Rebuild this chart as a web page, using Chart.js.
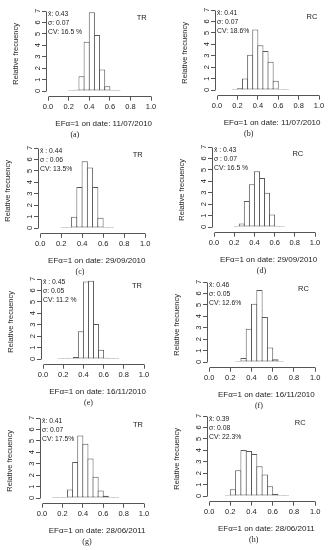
<!DOCTYPE html>
<html>
<head>
<meta charset="utf-8">
<script src="https://cdn.jsdelivr.net/npm/chart.js@4"></script>
<style>
  body { margin: 0; background: #fff; }
  #wrap { position: relative; width: 330px; height: 550px; overflow: hidden; background: #fff; }
  #wrap canvas { position: absolute; }
</style>
</head>
<body>
<div id="wrap"></div>
<script>
// histogram bins: lower edges, width 0.05
const binStarts = [0.10, 0.15, 0.20, 0.25, 0.30, 0.35, 0.40, 0.45, 0.50, 0.55, 0.60, 0.65, 0.70];
const binWidth = 0.05;
const xTicks = [0, 0.2, 0.4, 0.6, 0.8, 1.0];
const yTicks = [0, 1, 2, 3, 4, 5, 6, 7];

// relative frequency per bin (null = empty bin)
const freqA = [null, null, 0.03, 0.12, 1.29, 4.31, 6.89, 4.90, 1.88, 0.41, 0.05, 0.02, null];
const freqB = [null, 0.02, 0.15, 1.00, 3.09, 5.29, 3.91, 3.41, 2.47, 0.82, 0.09, 0.02, null];
const freqC = [null, null, 0.01, 0.05, 0.99, 3.59, 5.83, 5.30, 3.59, 0.90, 0.05, 0.01, null];
const freqD = [null, null, 0.02, 0.30, 2.27, 3.75, 4.87, 4.28, 3.00, 1.09, 0.08, 0.01, null];
const freqE = [null, 0.01, 0.01, 0.02, 0.17, 2.42, 6.79, 6.85, 3.06, 0.82, 0.10, 0.02, 0.01];
const freqF = [null, null, null, 0.02, 0.34, 2.91, 5.09, 6.29, 3.94, 1.26, 0.23, 0.02, null];
const freqG = [0.01, 0.01, 0.05, 0.74, 3.16, 5.46, 4.75, 3.45, 1.86, 0.65, 0.20, 0.05, 0.01];
const freqH = [null, 0.05, 0.59, 2.26, 4.02, 3.93, 3.67, 2.61, 1.88, 0.85, 0.18, 0.02, 0.01];

const methods = ['TR', 'RC', 'TR', 'RC', 'TR', 'RC', 'TR', 'RC'];
const dates = ['11/07/2010', '11/07/2010', '29/09/2010', '29/09/2010',
               '16/11/2010', '16/11/2010', '28/06/2011', '28/06/2011'];
const letters = ['(a)', '(b)', '(c)', '(d)', '(e)', '(f)', '(g)', '(h)'];
const statsA = ['x\u0304: 0.43', 'σ: 0.07', 'CV: 16.5 %'];
const statsB = ['x\u0304: 0.41', 'σ: 0.07', 'CV: 18.6%'];
const statsC = ['x\u0304 : 0.44', 'σ : 0.06', 'CV: 13.5%'];
const statsD = ['x\u0304 : 0.43', 'σ : 0.07', 'CV: 16.5 %'];
const statsE = ['x\u0304 : 0.45', 'σ: 0.05', 'CV: 11.2 %'];
const statsF = ['x\u0304: 0.46', 'σ: 0.05', 'CV: 12.6%'];
const statsG = ['x\u0304: 0.41', 'σ: 0.07', 'CV: 17.5%'];
const statsH = ['x\u0304: 0.39', 'σ: 0.08', 'CV: 22.3%'];

const allFreq = [freqA, freqB, freqC, freqD, freqE, freqF, freqG, freqH];
const allStats = [statsA, statsB, statsC, statsD, statsE, statsF, statsG, statsH];

// where each panel sits: pixel of x=0, pixel of y=7, px per x unit
const placeX0 = [48, 216.7, 40, 214, 42.7, 209, 41.7, 209.3];
const placeTop = [11, 10, 148.3, 146.7, 279.3, 281.7, 418.3, 416];
const placeXs = [103, 102, 105, 101, 101, 106, 102, 106];
const tagAt = [0.91, 0.93, 0.93, 0.83, 0.93, 0.89, 0.94, 0.86];
const letterAt = [0.26, 0.31, 0.38, 0.47, 0.45, 0.47, 0.44, 0.42];

Chart.defaults.font.family = '"Liberation Sans", Arial, sans-serif';
Chart.defaults.color = '#222';

const X_MIN = -0.02, X_MAX = 1.10, Y_MIN = -0.5, Y_MAX = 7;
const Y_W = 40, PAD_T = 8, X_H = 34, PLOT_H = 80 * (Y_MAX - Y_MIN) / Y_MAX, CANVAS_H = 138;

// R-like axis lines that only span the ticks
const axisLines = {
  id: 'axisLines',
  afterDraw(chart) {
    const { ctx, chartArea, scales: { x, y } } = chart;
    const ax = Math.round(chartArea.left - 0.5) + 0.5;
    const ay = Math.round(chartArea.bottom - 0.5) + 0.5;
    ctx.save();
    ctx.strokeStyle = '#555';
    ctx.lineWidth = 1;
    ctx.beginPath();
    ctx.moveTo(ax, Math.round(y.getPixelForValue(0)) + 0.5);
    ctx.lineTo(ax, Math.round(y.getPixelForValue(7)) + 0.5);
    ctx.moveTo(Math.round(x.getPixelForValue(0)) + 0.5, ay);
    ctx.lineTo(Math.round(x.getPixelForValue(1)) + 0.5, ay);
    ctx.stroke();
    ctx.restore();
  }
};

const notes = {
  id: 'notes',
  afterDraw(chart, args, opts) {
    const { ctx, chartArea, scales: { x } } = chart;
    ctx.save();
    ctx.fillStyle = '#222';
    ctx.textBaseline = 'middle';
    ctx.textAlign = 'left';
    ctx.font = '6.8px "Liberation Sans", Arial, sans-serif';
    opts.stats.forEach((s, i) => ctx.fillText(s, chartArea.left + 2, chartArea.top + 3.5 + i * 9));
    ctx.textAlign = 'center';
    ctx.font = '7.5px "Liberation Sans", Arial, sans-serif';
    ctx.fillText(opts.tag, x.getPixelForValue(opts.tagX), chartArea.top + 7);
    ctx.font = '8px "Liberation Serif", "Times New Roman", serif';
    ctx.fillText(opts.letter, x.getPixelForValue(opts.letterX), chartArea.bottom + 38.5);
    ctx.restore();
  }
};

const wrap = document.getElementById('wrap');

allFreq.forEach((freq, i) => {
  const xs = placeXs[i];
  const plotW = xs * (X_MAX - X_MIN);
  const left = Math.round(placeX0[i] + X_MIN * xs - Y_W);
  const top = Math.round(placeTop[i] - PAD_T);
  const width = Math.ceil(Y_W + plotW + 3);
  const padR = width - Y_W - plotW;
  const padB = CANVAS_H - PAD_T - PLOT_H - X_H;

  const canvas = document.createElement('canvas');
  canvas.width = width;
  canvas.height = CANVAS_H;
  canvas.style.left = left + 'px';
  canvas.style.top = top + 'px';
  wrap.appendChild(canvas);

  const points = binStarts.map((b, k) => ({ x: b + binWidth / 2, y: freq[k] }));

  new Chart(canvas.getContext('2d'), {
    type: 'bar',
    data: {
      datasets: [{
        data: points,
        backgroundColor: '#fff',
        borderColor: '#5a5a5a',
        borderWidth: 1,
        borderSkipped: false,
        inflateAmount: 0,
        barThickness: binWidth * xs + 1,
        minBarLength: 1
      }]
    },
    options: {
      responsive: false,
      animation: false,
      events: [],
      layout: { padding: { left: 0, top: PAD_T, right: padR, bottom: padB } },
      plugins: {
        legend: { display: false },
        tooltip: { enabled: false },
        notes: { stats: allStats[i], tag: methods[i], tagX: tagAt[i], letter: letters[i], letterX: letterAt[i] }
      },
      scales: {
        x: {
          type: 'linear',
          min: X_MIN,
          max: X_MAX,
          offset: false,
          afterBuildTicks: s => { s.ticks = xTicks.map(v => ({ value: v })); },
          afterFit: s => { s.height = X_H; },
          grid: { display: true, drawOnChartArea: false, offset: false, tickLength: 4, color: '#555', lineWidth: 1 },
          border: { display: false },
          ticks: { autoSkip: false, maxRotation: 0, padding: 1.5, font: { size: 7.5 }, callback: v => v.toFixed(1) },
          title: { display: true, text: 'EFα=1 on date: ' + dates[i], font: { size: 8 }, padding: { top: 0, bottom: 2 } }
        },
        y: {
          min: Y_MIN,
          max: Y_MAX,
          afterBuildTicks: s => { s.ticks = yTicks.map(v => ({ value: v })); },
          afterFit: s => { s.width = Y_W; },
          grid: { display: true, drawOnChartArea: false, tickLength: 4, color: '#555', lineWidth: 1 },
          border: { display: false },
          ticks: { autoSkip: false, minRotation: 90, maxRotation: 90, crossAlign: 'center', padding: 1.5, font: { size: 7.5 }, callback: v => String(v) },
          title: { display: true, text: 'Relative frecuency', font: { size: 7.5 }, padding: { top: 5.5, bottom: 0 } }
        }
      }
    },
    plugins: [axisLines, notes]
  });
});
</script>
</body>
</html>
